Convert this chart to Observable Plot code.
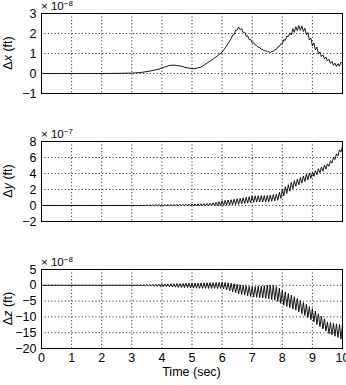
<!DOCTYPE html>
<html>
<head>
<meta charset="utf-8">
<script src="https://cdn.jsdelivr.net/npm/d3@7"></script>
<script src="https://cdn.jsdelivr.net/npm/@observablehq/plot@0.6"></script>
<style>
  html, body { margin: 0; padding: 0; background: #fff; overflow: hidden; }
  #chart { position: relative; width: 346px; height: 385px; }
  #chart svg { position: absolute; left: 0; }
</style>
</head>
<body>
<div id="chart"></div>
<script>
// Position error components of the vehicle over a 10 s run.
// Values are stored in the units of each panel's multiplier.

const timeTicks = [0, 1, 2, 3, 4, 5, 6, 7, 8, 9, 10];
const dxTicks = [-1, 0, 1, 2, 3];          // x 10^-8 ft
const dyTicks = [-2, 0, 2, 4, 6, 8];       // x 10^-7 ft
const dzTicks = [-20, -15, -10, -5, 0, 5]; // x 10^-8 ft

// Δx: smooth part as [time, value] pairs
const dxCalm = [
  [0, 0], [1, 0], [2, 0], [2.5, 0.005], [3.0, 0.02], [3.3, 0.05], [3.6, 0.12],
  [3.9, 0.22], [4.1, 0.33], [4.25, 0.4], [4.4, 0.42], [4.6, 0.38], [4.8, 0.3],
  [5.0, 0.24], [5.1, 0.24], [5.3, 0.32], [5.5, 0.52], [5.7, 0.72], [5.9, 0.95],
  [6.0, 1.07], [6.1, 1.27], [6.2, 1.5], [6.3, 1.74]
];
// Δx: sampled every 0.05 s from 6.35 s, where the small ripple appears
const dxRippleStart = 6.35;
const dxRipple = [
  1.92, 1.95, 2.17, 2.17, 2.32, 2.20, 2.23, 2.05, 2.06, 1.87,
  1.88, 1.70, 1.71, 1.53, 1.53, 1.43, 1.41, 1.31, 1.30, 1.21,
  1.21, 1.13, 1.14, 1.08, 1.10, 1.05, 1.11, 1.10, 1.19, 1.20,
  1.32, 1.36, 1.48, 1.49, 1.69, 1.66, 1.87, 1.84, 2.03, 1.93,
  2.24, 2.06, 2.34, 2.14, 2.40, 2.16, 2.38, 2.10, 2.26, 1.93,
  2.05, 1.68, 1.77, 1.38, 1.52, 1.18, 1.32, 0.98, 1.08, 0.85,
  0.93, 0.73, 0.82, 0.63, 0.71, 0.51, 0.60, 0.41, 0.52, 0.35,
  0.49, 0.37, 0.57, 0.50
];

// Δy: flat until 3 s, then sampled every 0.05 s
const dyCalm = [[0, 0], [2.95, 0]];
const dyRippleStart = 3.0;
const dyRipple = [
  0.02, -0.02, 0.02, -0.02, 0.02, -0.02, 0.03, -0.03, 0.03, -0.03,
  0.06, -0.03, 0.07, -0.03, 0.07, -0.03, 0.08, -0.03, 0.09, -0.04,
  0.10, -0.05, 0.11, -0.05, 0.11, -0.05, 0.12, -0.06, 0.13, -0.06,
  0.14, -0.05, 0.15, -0.05, 0.15, -0.06, 0.16, -0.06, 0.17, -0.06,
  0.19, -0.04, 0.20, -0.04, 0.21, -0.04, 0.22, -0.03, 0.24, -0.03,
  0.26, -0.05, 0.30, -0.04, 0.34, -0.03, 0.40, -0.03, 0.48, -0.02,
  0.60, 0.00, 0.64, 0.02, 0.68, 0.05, 0.72, 0.08, 0.78, 0.12,
  0.85, 0.15, 0.90, 0.20, 0.96, 0.25, 1.02, 0.30, 1.10, 0.34,
  1.20, 0.40, 1.21, 0.42, 1.22, 0.43, 1.23, 0.44, 1.24, 0.45,
  1.25, 0.47, 1.30, 0.52, 1.36, 0.56, 1.42, 0.65, 1.65, 0.90,
  2.05, 1.20, 2.35, 1.50, 2.60, 1.80, 2.90, 2.10, 3.10, 2.40,
  3.30, 2.60, 3.50, 2.80, 3.70, 3.00, 3.90, 3.20, 4.05, 3.40,
  4.15, 3.65, 4.35, 3.85, 4.60, 4.10, 4.80, 4.30, 5.05, 4.55,
  5.20, 4.90, 5.60, 5.30, 6.00, 5.75, 6.45, 6.20, 6.95, 6.70,
  7.40
];

// Δz: flat until 3 s, then sampled every 0.05 s
const dzCalm = [[0, 0], [2.95, 0]];
const dzRippleStart = 3.0;
const dzRipple = [
  0.03, -0.04, 0.05, -0.06, 0.08, -0.09, 0.11, -0.12, 0.15, -0.16,
  0.20, -0.21, 0.24, -0.25, 0.28, -0.29, 0.32, -0.33, 0.36, -0.37,
  0.40, -0.42, 0.43, -0.46, 0.46, -0.50, 0.50, -0.55, 0.52, -0.60,
  0.55, -0.65, 0.58, -0.70, 0.62, -0.74, 0.65, -0.78, 0.68, -0.86,
  0.70, -0.90, 0.72, -0.92, 0.74, -0.94, 0.76, -0.96, 0.78, -0.98,
  0.80, -1.00, 0.82, -1.00, 0.85, -1.00, 0.88, -1.00, 0.94, -1.00,
  1.00, -1.15, 0.90, -1.45, 0.80, -1.75, 0.65, -2.05, 0.50, -2.35,
  0.30, -2.70, 0.15, -2.90, 0.00, -3.10, -0.15, -3.30, -0.30, -3.50,
  -0.50, -3.70, -0.40, -3.80, -0.30, -3.90, -0.25, -4.00, -0.15, -4.10,
  0.00, -4.30, 0.05, -4.50, 0.00, -4.70, -0.40, -5.10, -0.90, -5.70,
  -1.60, -6.30, -2.10, -6.70, -2.60, -7.10, -3.10, -7.50, -3.60, -7.90,
  -4.20, -8.40, -4.80, -9.00, -5.40, -9.60, -6.00, -10.20, -6.70, -10.90,
  -7.40, -11.60, -8.20, -12.40, -9.00, -13.10, -9.80, -13.80, -10.60, -14.50,
  -11.60, -15.30, -11.80, -15.70, -12.00, -16.10, -12.20, -16.50, -12.40, -17.00,
  -12.20
];

const sampleStep = 0.05;

function buildSeries(calm, start, values) {
  const pts = calm.map(([t, v]) => ({t, v}));
  values.forEach((v, i) => pts.push({t: start + i * sampleStep, v}));
  return pts;
}

const dxData = buildSeries(dxCalm, dxRippleStart, dxRipple);
const dyData = buildSeries(dyCalm, dyRippleStart, dyRipple);
const dzData = buildSeries(dzCalm, dzRippleStart, dzRipple);

const FONT = "Liberation Sans, Arial, Helvetica, sans-serif";
const ML = 41, MR = 4, W = 346;
const intFmt = d3.format("d");

function panel({data, yTicks, top, mTop, frameH, mBottom, showTime, sym, expo}) {
  const height = mTop + frameH + mBottom;
  const yDomain = [yTicks[0], yTicks[yTicks.length - 1]];
  const gridY = yTicks.slice(1, -1);
  const gridX = timeTicks.slice(1, -1);
  const svg = Plot.plot({
    width: W,
    height,
    marginLeft: ML,
    marginRight: MR,
    marginTop: mTop,
    marginBottom: mBottom,
    style: {fontFamily: FONT, fontSize: "12.5px", color: "#000", background: "transparent", overflow: "visible"},
    x: showTime
      ? {domain: [0, 10], ticks: timeTicks, tickSize: 0, tickPadding: 5, label: null, tickFormat: intFmt}
      : {domain: [0, 10], axis: null},
    y: {domain: yDomain, ticks: yTicks, tickSize: 0, tickPadding: 5, label: null, tickFormat: intFmt},
    marks: [
      Plot.ruleX(gridX, {stroke: "#222", strokeWidth: 0.9, strokeDasharray: "1.2,2.2"}),
      Plot.ruleY(gridY, {stroke: "#222", strokeWidth: 0.9, strokeDasharray: "1.2,2.2"}),
      Plot.line(data, {x: "t", y: "v", stroke: "#000", strokeWidth: 0.9}),
      Plot.frame({stroke: "#000", strokeWidth: 1})
    ]
  });
  svg.style.top = top + "px";
  const s = d3.select(svg);
  const cy = mTop + frameH / 2;

  // rotated axis title with italic component letter
  const yl = s.append("text")
    .attr("transform", `translate(12,${cy}) rotate(-90)`)
    .attr("text-anchor", "middle")
    .style("font-family", FONT)
    .style("font-size", "12.5px")
    .attr("fill", "#000");
  yl.append("tspan").text("Δ");
  yl.append("tspan").style("font-style", "italic").text(sym);
  yl.append("tspan").text(" (ft)");

  // scale multiplier above the frame
  const m = s.append("text")
    .attr("x", ML)
    .attr("y", mTop - 3)
    .attr("text-anchor", "start")
    .style("font-family", FONT)
    .style("font-size", "11.5px")
    .attr("fill", "#000");
  m.append("tspan").text("× 10");
  m.append("tspan").style("font-size", "8px").attr("dy", -4.5).text("−" + expo);

  if (showTime) {
    s.append("text")
      .attr("x", ML + (W - ML - MR) / 2)
      .attr("y", mTop + frameH + 28)
      .attr("text-anchor", "middle")
      .style("font-family", FONT)
      .style("font-size", "12.5px")
      .attr("fill", "#000")
      .text("Time (sec)");
  }
  document.getElementById("chart").appendChild(svg);
}

panel({data: dxData, yTicks: dxTicks, top: 0, mTop: 13, frameH: 80, mBottom: 27, showTime: false, sym: "x", expo: "8"});
panel({data: dyData, yTicks: dyTicks, top: 120, mTop: 21, frameH: 80, mBottom: 27, showTime: false, sym: "y", expo: "7"});
panel({data: dzData, yTicks: dzTicks, top: 248, mTop: 21, frameH: 79, mBottom: 37, showTime: true, sym: "z", expo: "8"});
</script>
</body>
</html>
